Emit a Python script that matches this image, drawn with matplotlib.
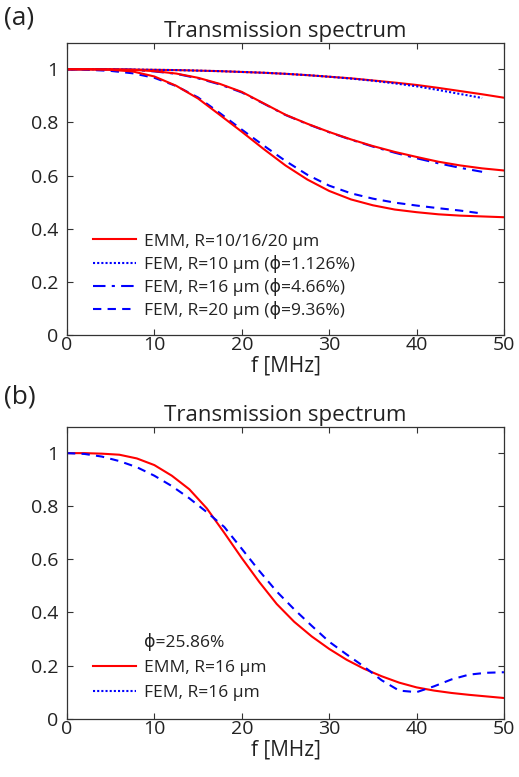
import matplotlib
matplotlib.use('Agg')
import matplotlib.pyplot as plt
from matplotlib.lines import Line2D

plt.rcParams['font.family'] = ['Open Sans', 'DejaVu Sans']

# panel (a): frequency grid (MHz), FEM curves stop at ~47.5 MHz
f_a = [0, 2.5, 5, 7.5, 10, 12.5, 15, 17.5, 20, 22.5, 25, 27.5, 30, 32.5, 35,
       37.5, 40, 42.5, 45, 47.5, 50]
f_a_fem = f_a[:-1]

emm_r10 = [1, 1, 1, 0.999, 0.998, 0.997, 0.995, 0.993, 0.99, 0.987, 0.983,
           0.978, 0.972, 0.966, 0.958, 0.95, 0.941, 0.93, 0.918, 0.906, 0.893]
fem_r10 = [1, 1, 1, 0.999, 0.998, 0.997, 0.995, 0.993, 0.99, 0.987, 0.983,
           0.978, 0.972, 0.965, 0.957, 0.947, 0.936, 0.922, 0.907, 0.892]
emm_r16 = [1, 1, 1, 0.998, 0.993, 0.984, 0.968, 0.945, 0.915, 0.872,
           0.829, 0.795, 0.764, 0.736, 0.711, 0.689, 0.67, 0.652, 0.638,
           0.627, 0.619]
fem_r16 = [1, 1, 1, 0.998, 0.992, 0.983, 0.966, 0.943, 0.913, 0.871,
           0.828, 0.794, 0.763, 0.735, 0.709, 0.686, 0.665, 0.646, 0.629,
           0.614]
emm_r20 = [1, 1, 0.998, 0.992, 0.973, 0.938, 0.89, 0.828, 0.765, 0.70,
           0.638, 0.585, 0.542, 0.51, 0.488, 0.472, 0.462, 0.454, 0.449,
           0.446, 0.443]
fem_r20 = [1, 0.998, 0.994, 0.985, 0.968, 0.937, 0.894, 0.835, 0.773, 0.713,
           0.655, 0.603, 0.562, 0.533, 0.513, 0.498, 0.487, 0.477, 0.468,
           0.457]

# panel (b)
f_b = [0, 2, 4, 6, 8, 10, 12, 14, 16, 18, 20, 22, 24, 26, 28, 30, 32, 34,
       36, 38, 40, 42, 44, 46, 48, 50]
emm_b = [1, 1, 0.998, 0.994, 0.98, 0.955, 0.915, 0.864, 0.792, 0.70, 0.605,
         0.515, 0.432, 0.365, 0.31, 0.263, 0.222, 0.188, 0.16, 0.136, 0.118,
         0.106, 0.097, 0.09, 0.084, 0.078]
fem_b = [1, 0.997, 0.987, 0.97, 0.947, 0.915, 0.876, 0.83, 0.778, 0.722,
         0.64, 0.557, 0.479, 0.412, 0.35, 0.29, 0.242, 0.196, 0.145, 0.106,
         0.1, 0.122, 0.148, 0.166, 0.173, 0.175]

xticks = [0, 10, 20, 30, 40, 50]
yticks = [0, 0.2, 0.4, 0.6, 0.8, 1]
ytick_labels = ['0', '0.2', '0.4', '0.6', '0.8', '1']

fig = plt.figure(figsize=(5.19, 7.77), dpi=100)
ax1 = fig.add_axes([0.129, 0.569, 0.842, 0.376])
ax2 = fig.add_axes([0.129, 0.075, 0.842, 0.376])

dotted = (0, (1, 1))
dashdot = (0, (6, 3, 1.5, 3))
dashed = (0, (4, 3))


def style(ax):
    ax.set_xlim(0, 50)
    ax.set_ylim(0, 1.1)
    ax.set_xticks(xticks)
    ax.set_yticks(yticks)
    ax.set_yticklabels(ytick_labels)
    ax.tick_params(direction='in', top=True, right=True, length=4,
                   labelsize=14, color='#333333', labelcolor='#222222')
    ax.tick_params(axis='x', pad=1)
    ax.tick_params(axis='y', pad=6)
    for s in ax.spines.values():
        s.set_color('#333333')
        s.set_linewidth(0.9)
    ax.set_title('Transmission spectrum', fontsize=16, pad=4, color='#222222')
    ax.set_xlabel('f [MHz]', fontsize=15, labelpad=1, color='#222222')


# (a)
ax1.plot(f_a, emm_r10, color='red', lw=1.5, label='EMM, R=10/16/20 μm')
ax1.plot(f_a_fem, fem_r10, color='blue', lw=1.5, ls=dotted,
         label='FEM, R=10 μm (ϕ=1.126%)')
ax1.plot(f_a_fem, fem_r16, color='blue', lw=1.5, ls=dashdot,
         label='FEM, R=16 μm (ϕ=4.66%)')
ax1.plot(f_a_fem, fem_r20, color='blue', lw=1.5, ls=dashed,
         label='FEM, R=20 μm (ϕ=9.36%)')
ax1.plot(f_a, emm_r16, color='red', lw=1.5)
ax1.plot(f_a, emm_r20, color='red', lw=1.5)
style(ax1)
ax1.legend(loc='lower left', bbox_to_anchor=(0.043, 0.03), frameon=False,
           fontsize=12.5, handlelength=2.5, handletextpad=0.45,
           labelspacing=0.3, borderaxespad=0, labelcolor='#222222')

# (b)
ax2.plot(f_b, emm_b, color='red', lw=1.5)
ax2.plot(f_b, fem_b, color='blue', lw=1.5, ls=dashed)
style(ax2)
handles = [Line2D([], [], color='none'),
           Line2D([], [], color='red', lw=1.5),
           Line2D([], [], color='blue', lw=1.5, ls=dotted)]
labels = ['ϕ=25.86%', 'EMM, R=16 μm', 'FEM, R=16 μm']
ax2.legend(handles, labels, loc='lower left', bbox_to_anchor=(0.043, 0.037),
           frameon=False, fontsize=12.5, handlelength=2.5,
           handletextpad=0.45, labelspacing=0.5, borderaxespad=0,
           labelcolor='#222222')

fig.text(0.008, 0.977, '(a)', fontsize=19, va='center', ha='left',
         color='#222222')
fig.text(0.008, 0.489, '(b)', fontsize=19, va='center', ha='left',
         color='#222222')

fig.savefig('out.png', dpi=100)
